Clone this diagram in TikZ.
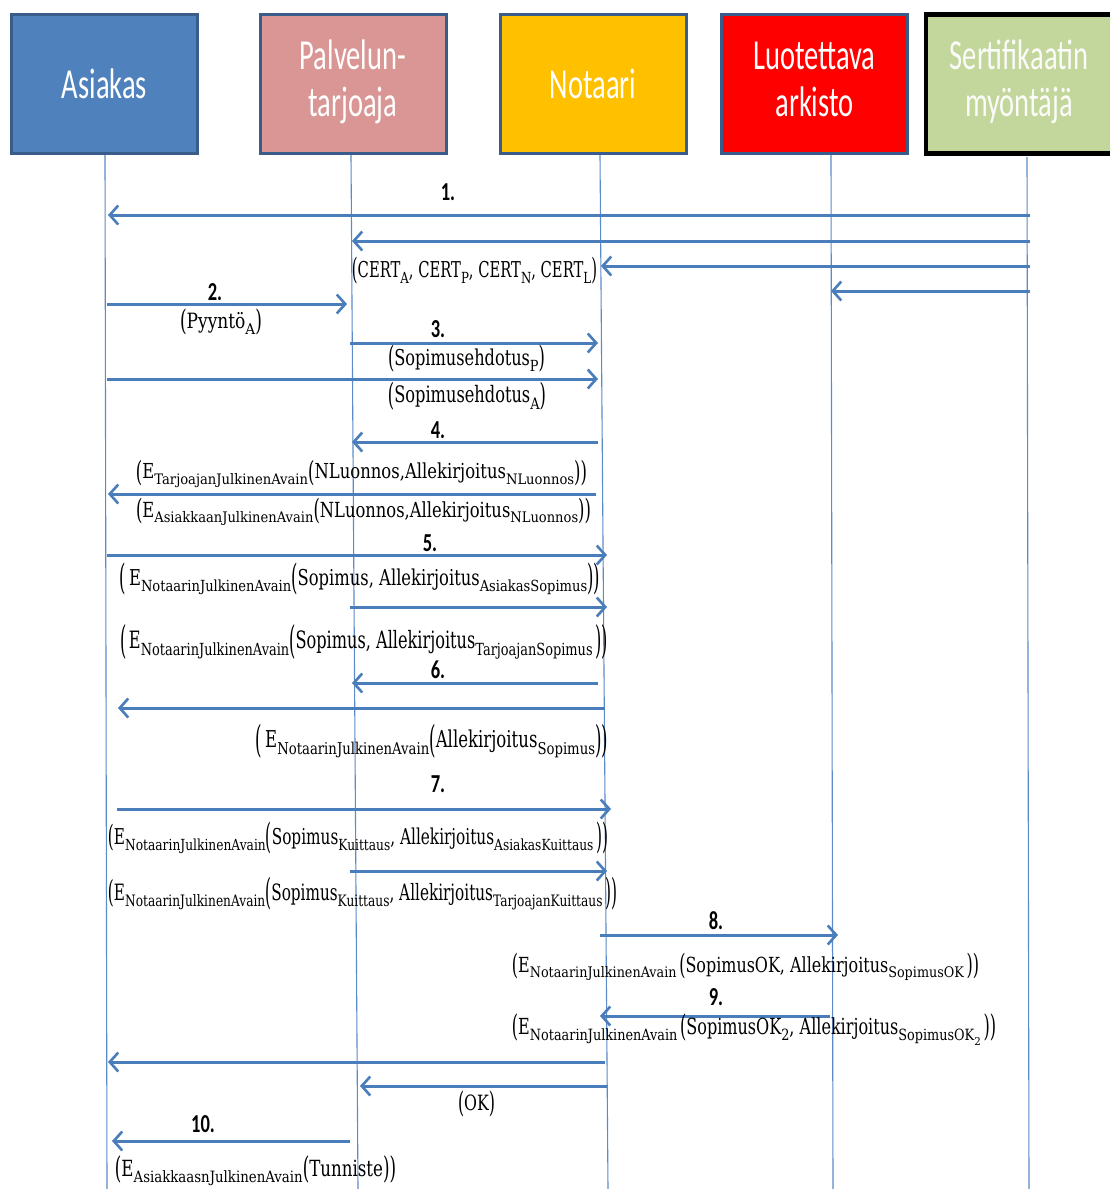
\documentclass[tikz,border=0pt]{standalone}
\usepackage{fontspec}
\usepackage{graphicx}
\setmainfont{DejaVu Serif}
\newfontfamily\hdrfont{Carlito}
\usetikzlibrary{arrows.meta}

\definecolor{asiakasblue}{HTML}{4F81BD}
\definecolor{palvelunpink}{HTML}{D99694}
\definecolor{notaarigold}{HTML}{FFC000}
\definecolor{arkistored}{HTML}{FF0000}
\definecolor{sertgreen}{HTML}{C3D69B}
\definecolor{boxedge}{HTML}{385D8A}
\definecolor{msgblue}{HTML}{4A7EBB}
\definecolor{lifeblue}{HTML}{5B8BC8}

% subscripts and parentheses inside the message labels
\newcommand\sub[1]{\raisebox{-0.55ex}{\scalebox{0.8}[0.7]{#1}}}
\newcommand\lp{\raisebox{-0.11em}{\scalebox{1}[1.35]{(}}}
\newcommand\rp{\raisebox{-0.11em}{\scalebox{1}[1.35]{)}}}
\newcommand\blp{\raisebox{-0.19em}{\scalebox{1}[1.6]{(}}}
\newcommand\brp{\raisebox{-0.19em}{\scalebox{1}[1.6]{)}}}
% a label set to a given width and total height
\newcommand\lbl[3]{\resizebox*{#1pt}{#2pt}{#3}}
% header texts (tall, narrow lettering)
\newcommand\hdrone[1]{\scalebox{1}[1.5]{#1}}
\newcommand\hdrtwo[2]{\raisebox{-3pt}{\scalebox{1}[1.5]{\begin{tabular}{@{}c@{}}#1\\#2\end{tabular}}}}
% step numbers
\newcommand\nr[1]{\scalebox{1}[1.4]{#1}}
% one message: name, y, x from, x to
\newcommand\msg[4]{%
  \coordinate (#1s) at (#3,#2);
  \coordinate (#1e) at (#4,#2);
  \draw[msgarrow] (#1s) -- (#1e);}

\begin{document}
\begin{tikzpicture}[x=1pt,y=-1pt,
  hdrbox/.style={draw=boxedge, line width=3pt, minimum width=186pt,
    minimum height=139pt, inner sep=0pt, text=white,
    font=\hdrfont\fontsize{28.5}{31.3}\selectfont},
  lifeline/.style={draw=lifeblue, line width=1.1pt},
  msgarrow/.style={draw=msgblue, line width=3pt,
    -{Straight Barb[length=8.5pt,width=19pt,line width=2.6pt]}},
  stepnum/.style={inner sep=0pt, font=\hdrfont\bfseries\fontsize{18.5}{20}\selectfont},
  msglabel/.style={inner sep=0pt}]

\useasboundingbox (0,0) rectangle (1109,1189);

% ---------- participants ----------
\node[hdrbox, fill=asiakasblue] (asiakas) at (104.5,84) {\hdrone{Asiakas}};
\node[hdrbox, fill=palvelunpink] (palvelu) at (353,84) {\hdrtwo{Palvelun-}{tarjoaja}};
\node[hdrbox, fill=notaarigold] (notaari) at (593,84) {\hdrone{Notaari}};
\node[hdrbox, fill=arkistored] (arkisto) at (814.5,84) {\hdrtwo{Luotettava}{arkisto}};
\node[hdrbox, fill=sertgreen, draw=black, line width=4.5pt, minimum width=186pt,
  text=white!94!sertgreen] (sert) at (1019,84) {\hdrtwo{Sertifikaatin}{myöntäjä}};

% ---------- lifelines ----------
\coordinate (Atop) at (105,155);  \coordinate (Abot) at (107,1189);
\coordinate (Ptop) at (351,155);  \coordinate (Pbot) at (358,1189);
\coordinate (Ntop) at (600,155);  \coordinate (Nbot) at (608,1189);
\coordinate (Ltop) at (831,155);  \coordinate (Lbot) at (833,1189);
\coordinate (Stop) at (1027,157); \coordinate (Sbot) at (1029,1189);
\foreach \p in {A,P,N,L,S} \draw[lifeline] (\p top) -- (\p bot);

% ---------- 1. certificates ----------
\node[stepnum] (n1) at (448,192) {\nr{1.}};
\msg{m1a}{215}{1030}{108}
\msg{m1b}{241}{1030}{352}
\msg{m1c}{266}{1030}{601}
\msg{m1d}{291}{1030}{831}
\node[msglabel] (t1) at (474.5,270.5)
  {\lbl{245}{27}{\lp CERT\sub{A}, CERT\sub{P}, CERT\sub{N}, CERT\sub{L}\rp}};

% ---------- 2. request ----------
\node[stepnum] (n2) at (215,292) {\nr{2.}};
\msg{m2}{304}{107}{347}
\node[msglabel] (t2) at (221,322) {\lbl{82}{26}{\lp Pyyntö\sub{A}\rp}};

% ---------- 3. contract proposals ----------
\node[stepnum] (n3) at (438,329) {\nr{3.}};
\msg{m3a}{343}{350}{598}
\node[msglabel] (t3a) at (466.5,358.5) {\lbl{157}{27}{\lp Sopimusehdotus\sub{P}\rp}};
\msg{m3b}{379}{107}{598}
\node[msglabel] (t3b) at (467,396) {\lbl{158}{28}{\lp Sopimusehdotus\sub{A}\rp}};

% ---------- 4. draft ----------
\node[stepnum] (n4) at (438,430) {\nr{4.}};
\msg{m4a}{442}{598}{352}
\node[msglabel] (t4a) at (361.5,474)
  {\lbl{451}{28}{\lp E\sub{TarjoajanJulkinenAvain}\lp NLuonnos,Allekirjoitus\sub{NLuonnos}\rp\rp}};
\msg{m4b}{494}{596}{108}
\node[msglabel] (t4b) at (363.5,512)
  {\lbl{455}{28}{\lp E\sub{AsiakkaanJulkinenAvain}\lp NLuonnos,Allekirjoitus\sub{NLuonnos}\rp\rp}};

% ---------- 5. signed contracts ----------
\node[stepnum] (n5) at (430,543) {\nr{5.}};
\msg{m5a}{555}{107}{607}
\node[msglabel] (t5a) at (360,579)
  {\lbl{480}{32}{\blp\,E\sub{NotaarinJulkinenAvain}\blp Sopimus, Allekirjoitus\sub{AsiakasSopimus}\brp\brp}};
\msg{m5b}{607}{350}{607}
\node[msglabel] (t5b) at (364,642)
  {\lbl{488}{35}{\blp\,E\sub{NotaarinJulkinenAvain}\blp Sopimus, Allekirjoitus\sub{TarjoajanSopimus}\,\brp\brp}};

% ---------- 6. notary signature ----------
\node[stepnum] (n6) at (438,670) {\nr{6.}};
\msg{m6a}{683}{598}{352}
\msg{m6b}{708}{605}{118}
\node[msglabel] (t6) at (432,741)
  {\lbl{352}{34}{\blp\,E\sub{NotaarinJulkinenAvain}\blp Allekirjoitus\sub{Sopimus}\brp\brp}};

% ---------- 7. receipts ----------
\node[stepnum] (n7) at (438,784) {\nr{7.}};
\msg{m7a}{809}{117}{611}
\node[msglabel] (t7a) at (358,838)
  {\lbl{500}{32}{\lp E\sub{NotaarinJulkinenAvain}\blp Sopimus\sub{Kuittaus}, Allekirjoitus\sub{AsiakasKuittaus}\,\brp\brp}};
\msg{m7b}{871}{350}{607}
\node[msglabel] (t7b) at (362.5,893.5)
  {\lbl{509}{33}{\lp E\sub{NotaarinJulkinenAvain}\blp Sopimus\sub{Kuittaus}, Allekirjoitus\sub{TarjoajanKuittaus}\,\brp\brp}};

% ---------- 8. archive ----------
\node[stepnum] (n8) at (716,921) {\nr{8.}};
\msg{m8}{935}{600}{838}
\node[msglabel] (t8) at (745.5,967)
  {\lbl{467}{28}{\lp E\sub{NotaarinJulkinenAvain}\,\lp SopimusOK, Allekirjoitus\sub{SopimusOK}\,\rp\rp}};

% ---------- 9. archive reply ----------
\node[stepnum] (n9) at (716,997) {\nr{9.}};
\msg{m9}{1016}{830}{600}
\node[msglabel] (t9) at (754,1029.5)
  {\lbl{484}{31}{\lp E\sub{NotaarinJulkinenAvain}\,\lp SopimusOK\sub{2}, Allekirjoitus\sub{SopimusOK\sub{2}}\,\rp\rp}};
\msg{m9b}{1062}{605}{108}
\msg{m9c}{1086}{607}{360}
\node[msglabel] (t9c) at (476.5,1104) {\lbl{37}{26}{\lp OK\rp}};

% ---------- 10. identifier ----------
\node[stepnum] (n10) at (203,1124) {\nr{10.}};
\msg{m10}{1141}{350}{112}
\node[msglabel] (t10) at (255.5,1171)
  {\lbl{281}{30}{\lp E\sub{AsiakkaasnJulkinenAvain}\lp Tunniste\rp\rp}};

\end{tikzpicture}
\end{document}
